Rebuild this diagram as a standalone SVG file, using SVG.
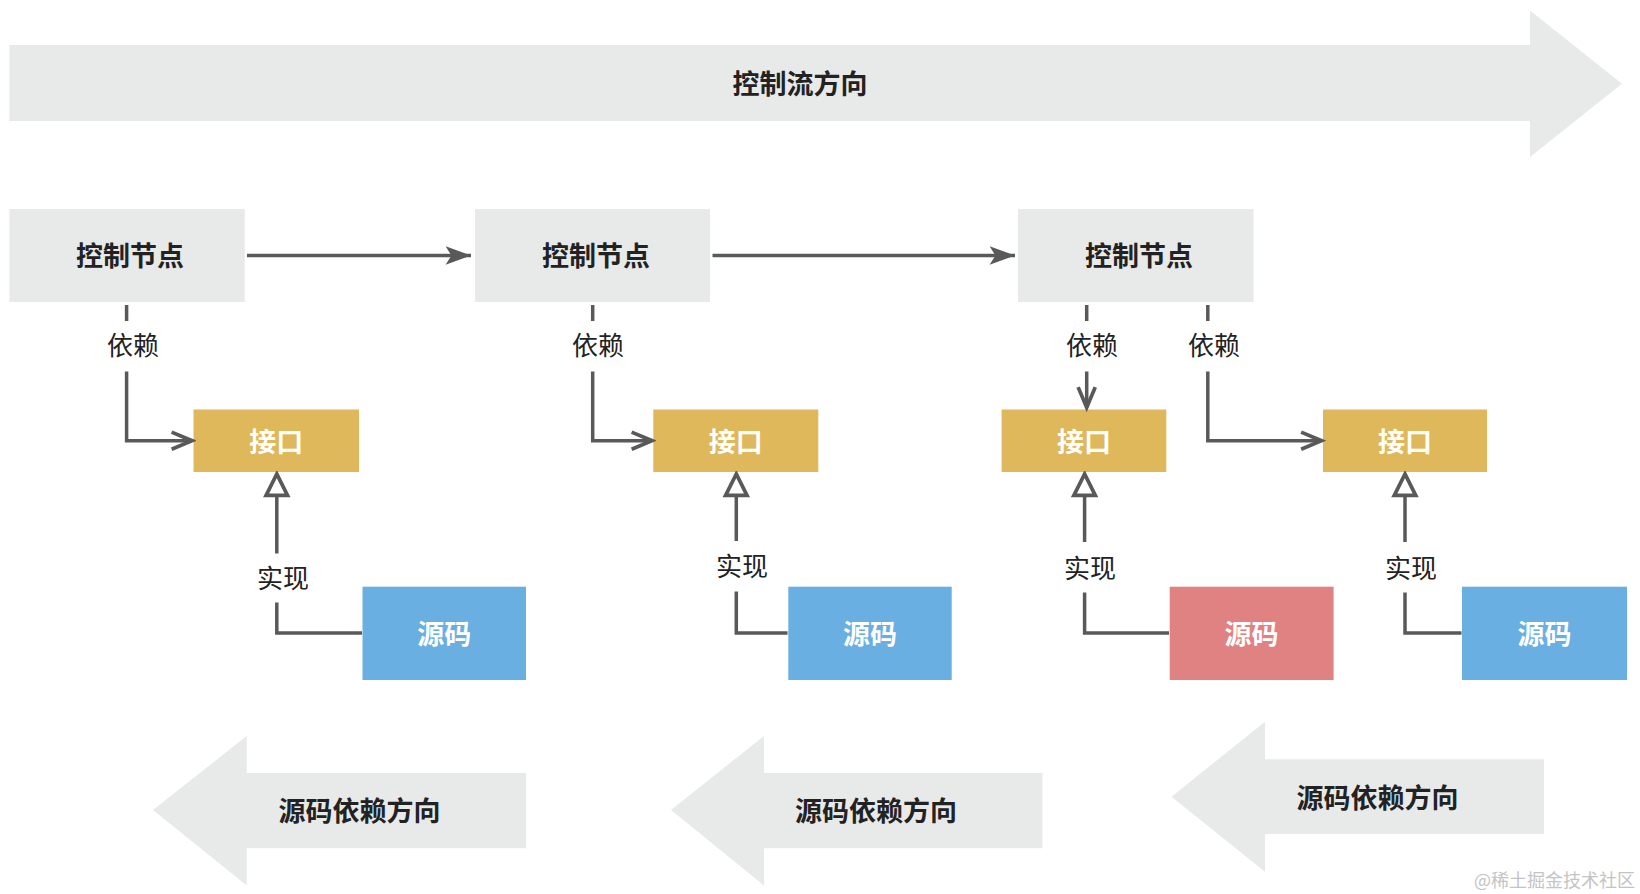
<svg xmlns="http://www.w3.org/2000/svg" width="1640" height="894" viewBox="0 0 1640 894">
<style>
text{font-family:"Noto Sans CJK SC","Noto Sans",sans-serif;dominant-baseline:central;text-anchor:middle}
.big{font-size:27px;font-weight:bold;fill:#222}
.lbl{font-size:26px;fill:#222}
.wt{font-size:27px;font-weight:bold;fill:#fff}
.band{fill:#e8e9e9}
.ctrl{fill:#e8e9e9}
.intf{fill:#dfb85b}
.src{fill:#6aafe1}
.srcr{fill:#e18282}
.ln{fill:none;stroke:#595959;stroke-width:3.5}
.bg{fill:#fff}
.wm{font-size:18px;fill:#c4c4c4;text-anchor:start}
</style>
<defs>
<marker id="solid" markerUnits="userSpaceOnUse" markerWidth="30" markerHeight="30" viewBox="-24 -10 26 20" refX="0" refY="0" orient="auto">
<path d="M0,0 L-22,-8 L-17,0 L-22,8 Z" fill="#595959"/>
</marker>
<marker id="open" markerUnits="userSpaceOnUse" markerWidth="30" markerHeight="30" viewBox="-24 -12 28 24" refX="0" refY="0" orient="auto">
<path d="M-19,-8 L0,0 L-19,8" fill="none" stroke="#595959" stroke-width="3.5"/>
</marker>
<marker id="tri" markerUnits="userSpaceOnUse" markerWidth="30" markerHeight="30" viewBox="-25 -14 28 28" refX="0" refY="0" orient="auto">
<path d="M0,0 L-20,-10 L-20,10 Z" fill="#fff" stroke="#595959" stroke-width="3.5" stroke-linejoin="miter"/>
</marker>
</defs>
<rect width="1640" height="894" fill="#fff"/>

<g id="control-flow-direction">
<polygon class="band" points="9.4,45 1530,45 1530,10.5 1622,83.7 1530,157 1530,121 9.4,121"/>
<text class="big" x="800" y="82">控制流方向</text>
</g>

<g id="ctrl1"><rect class="ctrl" x="9.4" y="209" width="235.3" height="93"/><text class="big" x="130" y="254">控制节点</text></g>
<g id="ctrl2"><rect class="ctrl" x="475" y="209" width="235" height="93"/><text class="big" x="596" y="254">控制节点</text></g>
<g id="ctrl3"><rect class="ctrl" x="1018" y="209" width="235.5" height="93"/><text class="big" x="1139" y="254">控制节点</text></g>

<g id="intf1"><rect class="intf" x="193.5" y="409.5" width="165.5" height="62.5"/><text class="wt" x="276.3" y="440">接口</text></g>
<g id="intf2"><rect class="intf" x="653.3" y="409.5" width="165" height="62.5"/><text class="wt" x="735.8" y="440">接口</text></g>
<g id="intf3"><rect class="intf" x="1001.6" y="409.5" width="164.7" height="62.5"/><text class="wt" x="1084" y="440">接口</text></g>
<g id="intf4"><rect class="intf" x="1323" y="409.5" width="164" height="62.5"/><text class="wt" x="1405" y="440">接口</text></g>

<g id="src1"><rect class="src" x="362.5" y="586.7" width="163.5" height="93.3"/><text class="wt" x="444.3" y="632">源码</text></g>
<g id="src2"><rect class="src" x="788.3" y="586.7" width="163.4" height="93.3"/><text class="wt" x="870" y="632">源码</text></g>
<g id="src3"><rect class="srcr" x="1169.7" y="586.7" width="163.9" height="93.3"/><text class="wt" x="1251.6" y="632">源码</text></g>
<g id="src4"><rect class="src" x="1462" y="586.7" width="165" height="93.3"/><text class="wt" x="1544.5" y="632">源码</text></g>

<g id="connectors">
<path class="ln" d="M247,255.5 H471" marker-end="url(#solid)"/>
<path class="ln" d="M712.5,255.5 H1015" marker-end="url(#solid)"/>

<path class="ln" d="M126.6,305 V440.7 H192" marker-end="url(#open)"/>
<rect class="bg" x="100" y="321" width="66" height="50.5"/>
<text class="lbl" x="133" y="343.5">依赖</text>

<path class="ln" d="M592.7,305 V440.7 H652" marker-end="url(#open)"/>
<rect class="bg" x="566" y="321" width="66" height="50.5"/>
<text class="lbl" x="598" y="343.5">依赖</text>

<path class="ln" d="M1086.7,305 V407.5" marker-end="url(#open)"/>
<rect class="bg" x="1060" y="321" width="66" height="50.5"/>
<text class="lbl" x="1092" y="343.5">依赖</text>

<path class="ln" d="M1207.8,305 V440.7 H1321.5" marker-end="url(#open)"/>
<rect class="bg" x="1181" y="321" width="66" height="50.5"/>
<text class="lbl" x="1214" y="343.5">依赖</text>

<path class="ln" d="M362,633 H276.8 V474" marker-end="url(#tri)"/>
<rect class="bg" x="250" y="553.5" width="66" height="49"/>
<text class="lbl" x="283" y="576.5">实现</text>

<path class="ln" d="M787.5,633 H736.3 V474" marker-end="url(#tri)"/>
<rect class="bg" x="709" y="541" width="66" height="50.5"/>
<text class="lbl" x="742" y="564">实现</text>

<path class="ln" d="M1169,633 H1084.6 V474" marker-end="url(#tri)"/>
<rect class="bg" x="1057" y="542" width="66" height="50.5"/>
<text class="lbl" x="1090" y="566.5">实现</text>

<path class="ln" d="M1461.5,633 H1405 V474" marker-end="url(#tri)"/>
<rect class="bg" x="1378" y="542" width="66" height="50.5"/>
<text class="lbl" x="1411" y="566.5">实现</text>
</g>

<g id="source-dep-direction-1">
<polygon class="band" points="153,810 246.7,736 246.7,773 526,773 526,848.3 246.7,848.3 246.7,885.5"/>
<text class="big" x="359.5" y="809">源码依赖方向</text>
</g>
<g id="source-dep-direction-2">
<polygon class="band" points="671,810 764,736 764,773 1042.5,773 1042.5,848.3 764,848.3 764,885.5"/>
<text class="big" x="876" y="809">源码依赖方向</text>
</g>
<g id="source-dep-direction-3">
<polygon class="band" points="1171.5,796.7 1265,721.7 1265,759.3 1544,759.3 1544,834 1265,834 1265,871.7"/>
<text class="big" x="1377.5" y="796">源码依赖方向</text>
</g>

<text class="wm" x="1474" y="879">@稀土掘金技术社区</text>
</svg>
